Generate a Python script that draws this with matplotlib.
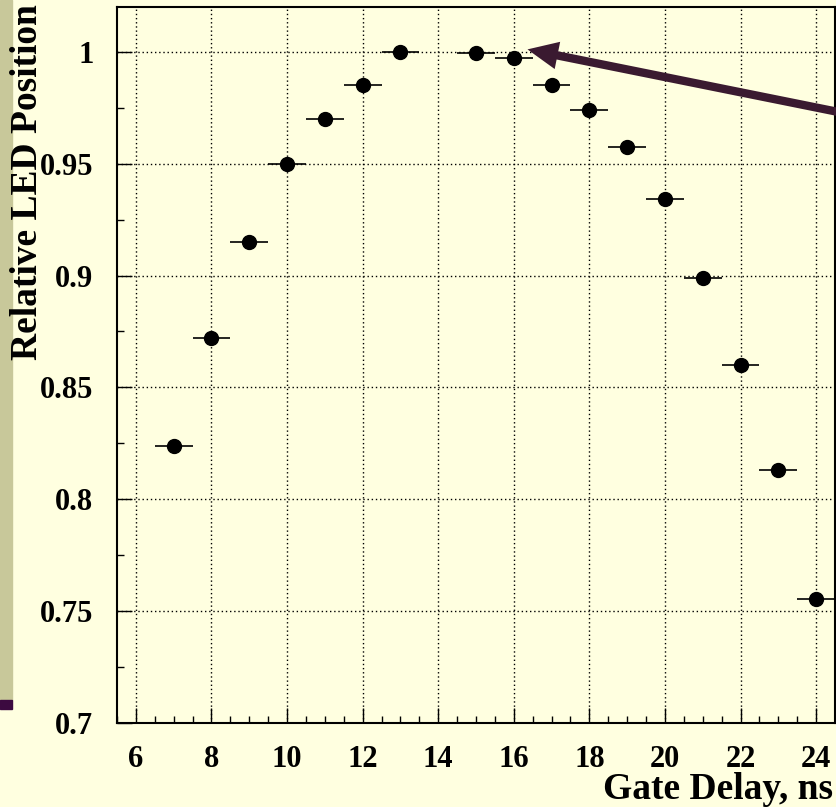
import matplotlib as mpl
mpl.use('Agg')
import matplotlib.pyplot as plt
from matplotlib.ticker import MultipleLocator
from matplotlib.patches import Rectangle

# data
delay = [7, 8, 9, 10, 11, 12, 13, 15, 16, 17, 18, 19, 20, 21, 22, 23, 24]
position = [0.824, 0.872, 0.915, 0.950, 0.970, 0.985, 1.000, 0.9995, 0.9973,
            0.985, 0.974, 0.9575, 0.934, 0.899, 0.860, 0.813, 0.7555]
delay_err = [0.5] * len(delay)

plt.rcParams['font.family'] = ['Liberation Serif', 'DejaVu Serif']
plt.rcParams['font.weight'] = 'bold'

bg = '#ffffe0'
fig = plt.figure(figsize=(8.37, 8.07), dpi=100, facecolor=bg)

# beige strip + purple bar at the left edge (slide decoration)
fig.patches.append(Rectangle((0, 1 - 700/807), 12/837, 700/807,
                             transform=fig.transFigure, color='#c8c89a', zorder=0))
fig.patches.append(Rectangle((0, 1 - 709/807), 12/837, 9/807,
                             transform=fig.transFigure, color='#3c0a40', zorder=0))

ax = fig.add_axes([117/837, 1 - 723/807, 718/837, 716/807])
ax.set_facecolor(bg)

ax.errorbar(delay, position, xerr=delay_err, fmt='o', color='black',
            markersize=10, elinewidth=1.2, capsize=0, zorder=3)

ax.set_xlim(5.5, 24.5)
ax.set_ylim(0.7, 1.02)
ax.xaxis.set_major_locator(MultipleLocator(2))
ax.xaxis.set_minor_locator(MultipleLocator(0.5))
ax.yaxis.set_minor_locator(MultipleLocator(0.025))
ax.set_yticks([0.7, 0.75, 0.8, 0.85, 0.9, 0.95, 1.0])
ax.set_yticklabels(['0.7', '0.75', '0.8', '0.85', '0.9', '0.95', '1'])

ax.tick_params(which='both', direction='in', top=False, right=False,
               labelsize=22, width=1)
ax.tick_params(axis='x', which='major', length=11, pad=16)
ax.tick_params(axis='y', which='major', length=11, pad=17)
ax.tick_params(which='minor', length=5)
for lbl in ax.get_xticklabels() + ax.get_yticklabels():
    lbl.set_fontweight('bold')

ax.grid(True, which='major', color='black', linestyle=(0, (1, 2)), linewidth=1)
ax.set_axisbelow(True)
for s in ax.spines.values():
    s.set_linewidth(1.5)

# axis titles placed like the ROOT canvas (right / top aligned)
fig.text(833/837, 1 - 799/807, 'Gate Delay, ns', fontsize=27, fontweight='bold',
         ha='right', va='baseline')
fig.text(28/837, 1 - 4/807, 'Relative LED Position', fontsize=27,
         fontweight='bold', rotation=90, ha='center', va='top')

# arrow pointing at the maximum
ax.annotate('', xy=(16.29, 1.0013), xytext=(25.2, 0.971),
            arrowprops=dict(arrowstyle='simple,head_length=1.1,head_width=1.0,tail_width=0.3',
                            mutation_scale=20, color='#3a1a30', lw=0),
            annotation_clip=False, zorder=4)

fig.savefig('out.png', dpi=100, facecolor=bg)
